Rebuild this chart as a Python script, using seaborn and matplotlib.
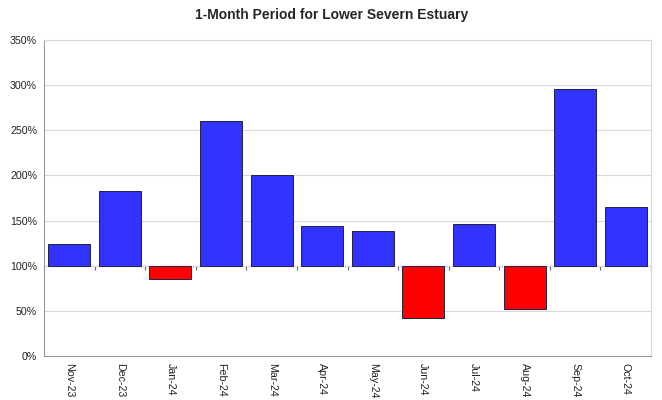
import numpy as np
import pandas as pd
import matplotlib
matplotlib.use("Agg")
import matplotlib.pyplot as plt
from matplotlib.ticker import FuncFormatter
import seaborn as sns

months = ['Nov-23', 'Dec-23', 'Jan-24', 'Feb-24', 'Mar-24', 'Apr-24',
          'May-24', 'Jun-24', 'Jul-24', 'Aug-24', 'Sep-24', 'Oct-24']
values = [124, 183, 85, 260, 201, 144, 138, 42, 146, 52, 296, 165]
baseline = 100

df = pd.DataFrame({'month': months, 'value': values})
df['diff'] = df['value'] - baseline
df['side'] = np.where(df['value'] >= baseline, 'above', 'below')

sns.set_style('white')
plt.rcParams['font.family'] = ['Liberation Sans', 'DejaVu Sans']

fig = plt.figure(figsize = (6.62, 4.0), dpi = 100)
ax = fig.add_axes([44 / 662, 1 - 356 / 400, (651 - 44) / 662, (356 - 40) / 400])

sns.barplot(data = df, x = 'month', y = 'diff', hue = 'side',
            palette = {'above': '#3333FF', 'below': '#FF0000'},
            dodge = False, legend = False, width = 0.83, saturation = 1,
            bottom = baseline, edgecolor = '#222244', linewidth = 0.7,
            zorder = 3, ax = ax)

ax.set_ylim(0, 350)
ax.set_xlim(-0.5, len(months) - 0.5)
ax.set_yticks(range(0, 351, 50))
ax.yaxis.set_major_formatter(FuncFormatter(lambda v, p: f'{v:.0f}%'))
ax.grid(axis = 'y', color = '#d9d9d9', linewidth = 0.8, zorder = 0)
ax.set_xlabel('')
ax.set_ylabel('')

for s in ['top', 'right']:
    ax.spines[s].set_color('#d9d9d9')
for s in ['left', 'bottom']:
    ax.spines[s].set_color('#999999')

ax.tick_params(axis = 'y', labelsize = 7.7, length = 3, color = '#999999', colors = '#222222', pad = 2)
ax.tick_params(axis = 'x', labelsize = 7.7, length = 0, colors = '#222222', pad = 5)
plt.setp(ax.get_xticklabels(), rotation = 270, va = 'top', ha = 'center')

# category axis crosses at 100%
sec = ax.secondary_xaxis(baseline / 350)
sec.set_xticks(np.arange(-0.5, len(months), 1))
sec.set_xticklabels([])
sec.tick_params(length = 3, color = '#666666', direction = 'out')
sec.spines['bottom'].set_color('#666666')
sec.spines['bottom'].set_zorder(5)

fig.suptitle('1-Month Period for Lower Severn Estuary', x = 332 / 662, y = 1 - 15 / 400,
             va = 'center', fontsize = 10, fontweight = 'bold')

fig.savefig('out.png', dpi = 100)
